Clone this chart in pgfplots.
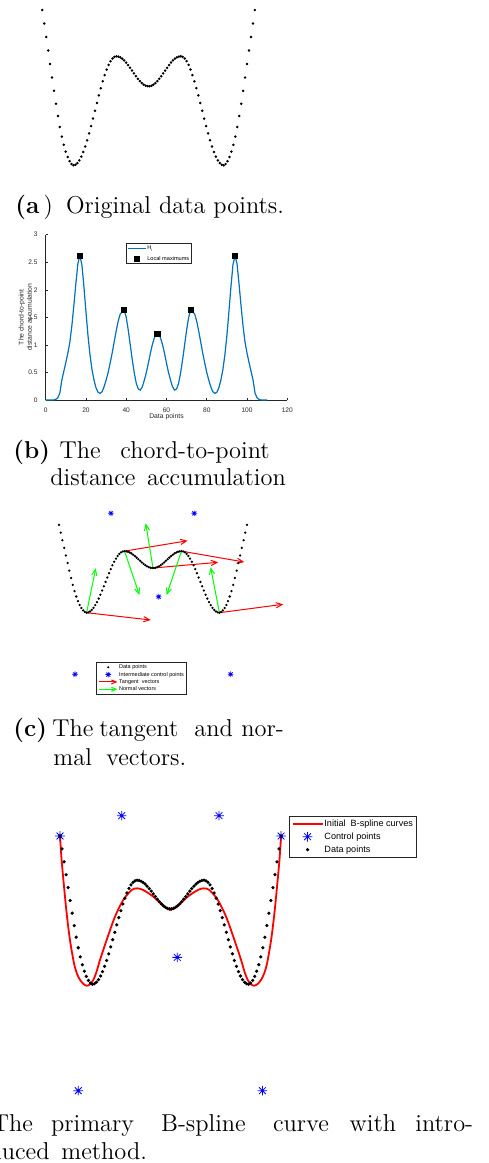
\documentclass[border=0pt]{standalone}
\usepackage{fontspec}
\newfontfamily\arialfont{Liberation Sans}
\usepackage{pgfplots}
\pgfplotsset{compat=1.18}
\usepackage{pgfplotstable}
\usetikzlibrary{arrows.meta}
\definecolor{mblue}{RGB}{0,114,189}
\definecolor{mgray}{RGB}{38,38,38}
\newcommand\capfont{\fontsize{12.2}{14}\selectfont}
\pgfdeclareplotmark{mstar}{%
 \pgfpathmoveto{\pgfqpoint{-\pgfplotmarksize}{0pt}}\pgfpathlineto{\pgfqpoint{\pgfplotmarksize}{0pt}}%
 \pgfpathmoveto{\pgfqpoint{0pt}{-\pgfplotmarksize}}\pgfpathlineto{\pgfqpoint{0pt}{\pgfplotmarksize}}%
 \pgfpathmoveto{\pgfqpoint{-0.707\pgfplotmarksize}{-0.707\pgfplotmarksize}}\pgfpathlineto{\pgfqpoint{0.707\pgfplotmarksize}{0.707\pgfplotmarksize}}%
 \pgfpathmoveto{\pgfqpoint{-0.707\pgfplotmarksize}{0.707\pgfplotmarksize}}\pgfpathlineto{\pgfqpoint{0.707\pgfplotmarksize}{-0.707\pgfplotmarksize}}%
 \pgfusepathqstroke}

\pgfplotstableread{
i h
1 155.3
2 141.8
3 128.3
4 114.8
5 101.3
6 87.8
7 74.5
8 61.5
9 49.3
10 38.3
11 28.7
12 20.5
13 13.7
14 8.3
15 4.1
16 1.3
17 0
18 0.6
19 2.2
20 4.9
21 8.7
22 13.3
23 18.8
24 25.0
25 31.9
26 39.2
27 46.7
28 54.5
29 62.3
30 69.9
31 77.1
32 84.0
33 90.2
34 95.7
35 100.4
36 104.1
37 106.8
38 108.4
39 109.0
40 108.7
41 107.9
42 106.6
43 104.9
44 102.7
45 100.2
46 97.5
47 94.7
48 91.9
49 89.1
50 86.5
51 84.2
52 82.2
53 80.7
54 79.6
55 79.1
56 79.1
57 79.6
58 80.7
59 82.2
60 84.2
61 86.5
62 89.1
63 91.9
64 94.7
65 97.5
66 100.2
67 102.7
68 104.9
69 106.6
70 107.9
71 108.7
72 109.0
73 108.4
74 106.8
75 104.1
76 100.4
77 95.7
78 90.2
79 84.0
80 77.1
81 69.9
82 62.3
83 54.5
84 46.7
85 39.2
86 31.9
87 25.0
88 18.8
89 13.3
90 8.7
91 4.9
92 2.2
93 0.6
94 0
95 1.3
96 4.1
97 8.3
98 13.7
99 20.5
100 28.7
101 38.3
102 49.3
103 61.5
104 74.5
105 87.8
106 101.3
107 114.8
108 128.3
109 141.8
110 155.3
}\curve

\pgfplotstableread{
x H
0 0
1 0
2 0
3 0
4 0
5 0.01
6 0.04
7 0.12
8 0.36
9 0.52
10 0.68
11 0.85
12 1.05
13 1.35
14 1.72
15 2.12
16 2.48
17 2.62
18 2.45
19 2.05
20 1.6
21 1.17
22 0.82
23 0.55
24 0.36
25 0.22
26 0.14
27 0.12
28 0.15
29 0.24
30 0.36
31 0.5
32 0.67
33 0.85
34 1.05
35 1.25
36 1.43
37 1.56
38 1.6
39 1.63
40 1.5
41 1.27
42 1.0
43 0.73
44 0.49
45 0.3
46 0.2
47 0.18
48 0.24
49 0.36
50 0.5
51 0.67
52 0.85
53 1.01
54 1.13
55 1.2
56 1.2
57 1.13
58 1.01
59 0.85
60 0.67
61 0.5
62 0.36
63 0.24
64 0.18
65 0.2
66 0.3
67 0.49
68 0.73
69 1.0
70 1.27
71 1.5
72 1.63
73 1.6
74 1.56
75 1.43
76 1.25
77 1.05
78 0.85
79 0.67
80 0.5
81 0.36
82 0.24
83 0.15
84 0.12
85 0.14
86 0.22
87 0.36
88 0.55
89 0.82
90 1.17
91 1.6
92 2.05
93 2.45
94 2.62
95 2.48
96 2.12
97 1.72
98 1.35
99 1.05
100 0.85
101 0.68
102 0.52
103 0.36
104 0.12
105 0.04
106 0.01
107 0
108 0
109 0
110 0
}\Hdata

\begin{document}
\begin{tikzpicture}
\useasboundingbox (0,0) rectangle (244pt,-581.5pt);
% ---------- captions ----------
\tikzset{capt/.style={anchor=base west,inner sep=0pt,font=\capfont}}
\node[capt] at (7.5pt,-106.5pt) {\textbf{(a}\,)};
\node[capt] at (32.85pt,-106.5pt) {Original data points.};
\node[capt] at (6.5pt,-229pt) {\textbf{(b)}};
\node[capt] at (29.65pt,-229pt) {The};
\node[capt] at (60pt,-229pt) {chord-to-point};
\node[capt] at (25pt,-242.5pt) {distance};
\node[capt] at (73.35pt,-242.5pt) {accumulation};
\node[capt] at (6.5pt,-368.25pt) {\textbf{(c)}};
\node[capt] at (26pt,-368.25pt) {The};
\node[capt] at (49.5pt,-368.25pt) {tangent};
\node[capt] at (97pt,-368.25pt) {and};
\node[capt] at (120.5pt,-368.25pt) {nor-};
\node[capt] at (26.5pt,-382.5pt) {mal};
\node[capt] at (53pt,-382.5pt) {vectors.};
\node[capt,anchor=base east] at (16.65pt,-565.5pt) {\textbf{(d)} The};
\node[capt] at (25.35pt,-565.5pt) {primary};
\node[capt] at (80.35pt,-565.5pt) {B-spline};
\node[capt] at (136.35pt,-565.5pt) {curve};
\node[capt] at (174.65pt,-565.5pt) {with};
\node[capt] at (207.5pt,-565.5pt) {intro-};
\node[capt,anchor=base east] at (25pt,-579.5pt) {duced};
\node[capt] at (30.5pt,-579.5pt) {method.};

% ---------- (a) ----------
\begin{axis}[at={(21.15pt,-82.65pt)}, anchor=south west, scale only axis,
  width=106.28pt, height=77.65pt, xmin=1, xmax=110, ymin=0, ymax=155.3,
  hide axis, clip=false, enlargelimits=false]
\addplot[only marks, mark=*, mark size=0.4pt, black] table[x=i,y=h]{\curve};
\end{axis}

% ---------- (b) ----------
\begin{axis}[at={(22.85pt,-200pt)}, anchor=south west, scale only axis,
  width=120.8pt, height=82.65pt, xmin=0, xmax=120, ymin=0, ymax=3,
  enlargelimits=false, clip=false,
  axis x line*=bottom, axis y line*=left,
  axis line style={mgray, line width=0.3pt},
  tick style={mgray, line width=0.3pt}, tick align=inside, major tick length=1.2pt,
  xtick={0,20,40,60,80,100,120}, ytick={0,0.5,1,1.5,2,2.5,3},
  ticklabel style={font=\arialfont\fontsize{3.3}{4}\selectfont, text=mgray},
  xticklabel style={yshift=-0.6pt}, yticklabel style={xshift=-0.6pt},
  /pgf/number format/assume math mode=true,
  xlabel={Data points}, ylabel={The chord-to-point\\distance accumulation},
  label style={font=\arialfont\fontsize{3.4}{4.1}\selectfont, text=mgray},
  ylabel style={align=center, at={(axis description cs:-0.084,0.5)}, anchor=center},
  xlabel style={at={(axis description cs:0.5,-0.1)}, anchor=center},
  legend style={at={(0.332,0.948)}, anchor=north west,
    font=\arialfont\fontsize{2.8}{3.4}\selectfont, draw=mgray, line width=0.3pt,
    inner sep=0.64pt, row sep=2.2pt, cells={anchor=west},
    nodes={inner sep=0.3pt, text height=2.1pt, text depth=0.56pt}},
  legend image code/.code={\draw[mark repeat=2,mark phase=2,#1] plot coordinates {(0pt,0pt) (4.5pt,0pt) (9pt,0pt)};}]
\addplot[mblue, line width=0.6pt] table[x=x,y=H]{\Hdata};
\addlegendentry{H\textsubscript{i}}
\addplot[only marks, mark=square*, mark size=1.3pt, black] coordinates {(17,2.62) (39,1.63) (55.5,1.2) (72,1.63) (94,2.62)};
\addlegendentry{Local maximums}
\end{axis}

% ---------- (c) ----------
\begin{axis}[at={(29.5pt,-306.35pt)}, anchor=south west, scale only axis,
  width=94pt, height=43.87pt, xmin=1, xmax=110, ymin=0, ymax=155.3,
  hide axis, clip=false, enlargelimits=false,
  legend style={at={(0.197,-0.558)}, anchor=north west,
    font=\arialfont\fontsize{2.75}{3.3}\selectfont, draw=mgray, line width=0.3pt,
    inner sep=1.1pt, row sep=0.55pt, cells={anchor=west},
    nodes={inner sep=0.25pt, text height=2.06pt, text depth=0.55pt}},
  legend image code/.code={\draw[mark repeat=2,mark phase=2,#1] plot coordinates {(0pt,0pt) (4.6pt,0pt) (9.2pt,0pt)};}]
\addplot[only marks, mark=*, mark size=0.35pt, black] table[x=i,y=h]{\curve};
\addlegendentry{Data points}
\addplot[only marks, mark=mstar, mark size=1.4pt, blue, line width=0.35pt] coordinates {(31.1,175.9) (79.4,175.9) (58.8,28.3) (10.3,-109) (100.5,-109)};
\addlegendentry{Intermediate control points}
\addplot[red, line width=0.5pt, -{Straight Barb[length=3pt,width=2.6pt]},
  quiver={u=\thisrow{u},v=\thisrow{v}},
  legend image code/.code={\draw[red,line width=0.5pt,-{Straight Barb[length=2.4pt,width=2pt]}] (0pt,0pt) -- (9.2pt,0pt);}] table {
x y u v
17 0 37.2 -12.9
39 109 36.6 18.4
55.5 79.1 37.8 10.1
72 109 36.4 -19.3
94 0 37 14.9
};
\addlegendentry{Tangent\ \ vectors}
\addplot[green, line width=0.5pt, -{Straight Barb[length=3pt,width=2.6pt]},
  quiver={u=\thisrow{u},v=\thisrow{v}},
  legend image code/.code={\draw[green,line width=0.5pt,-{Straight Barb[length=2.4pt,width=2pt]}] (0pt,0pt) -- (9.2pt,0pt);}] table {
x y u v
17 0 5.3 78.6
39 109 8.6 -77.7
55.5 79.1 -4.2 79.1
72 109 -8.6 -77.7
94 0 -5.1 80.4
};
\addlegendentry{Normal vectors}
\end{axis}

% ---------- (d) ----------
\begin{axis}[at={(30pt,-492.15pt)}, anchor=south west, scale only axis,
  width=110.53pt, height=74.15pt, xmin=1, xmax=110, ymin=0, ymax=155.3,
  hide axis, clip=false, enlargelimits=false,
  legend style={at={(1.037,1.135)}, anchor=north west,
    font=\arialfont\fontsize{4.55}{5.5}\selectfont, draw=mgray, line width=0.4pt,
    inner sep=1pt, row sep=1.18pt, cells={anchor=west},
    nodes={inner sep=0.5pt, text height=3.41pt, text depth=0.91pt}},
  legend image code/.code={\draw[mark repeat=2,mark phase=2,#1] plot coordinates {(0pt,0pt) (7.5pt,0pt) (15pt,0pt)};}]
\addplot[red, line width=0.9pt, smooth] coordinates {
(1,155.3) (1.8,130) (3,102) (4.3,74) (5.9,46.5) (7.9,22) (9.4,11) (10.9,4.5) (12.5,0.5) (14.2,-1.5)
(15.8,0) (17.4,4.5) (19,13) (20.7,25.4) (24,46.4) (28.1,70.8) (32.2,88.3) (36.3,98.7) (39.1,100.5)
(42.1,98.7) (47,91.8) (52,82) (55.5,77.8) (59,82) (64,91.8) (68.9,98.7) (71.9,100.5) (74.7,98.7)
(78.8,88.3) (82.9,70.8) (87,46.4) (90.3,25.4) (92,13) (93.6,4.5) (95.2,0) (96.8,-1.5) (98.5,0.5)
(100.1,4.5) (101.6,11) (103.1,22) (105.1,46.5) (106.7,74) (108,102) (109.2,130) (110,155.3)};
\addlegendentry{Initial\ \ B-spline curves}
\addplot[only marks, mark=mstar, mark size=2.4pt, blue, line width=0.4pt] coordinates {(1,155.3) (31.4,176.6) (79.4,176.6) (110,155.3) (58.8,28.2) (10,-111.4) (100.8,-111.4)};
\addlegendentry{Control points}
\addplot[only marks, mark=*, mark size=0.6pt, black] table[x=i,y=h]{\curve};
\addlegendentry{Data points}
\end{axis}
\end{tikzpicture}
\end{document}
